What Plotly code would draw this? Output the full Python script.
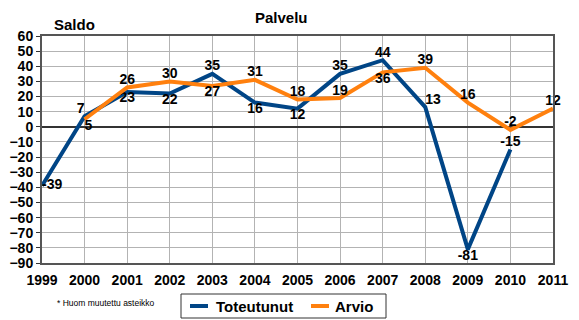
import plotly.graph_objects as go

years = list(range(1999, 2012))
toteutunut = [-39, 7, 23, 22, 35, 16, 12, 35, 44, 13, -81, -15, None]
arvio = [None, 5, 26, 30, 27, 31, 18, 19, 36, 39, 16, -2, 12]
series_names = ["Toteutunut", "Arvio"]

tot_pos = ["middle right", "top left", "bottom center", "bottom center", "top center",
           "bottom center", "bottom center", "top center", "top center", "top right",
           "bottom center", "top center", "top center"]
arv_pos = ["top center", "bottom right", "top center", "top center", "bottom center",
           "top center", "top center", "top center", "bottom center", "top center",
           "top center", "top center", "top center"]

BLUE = "#004586"
ORANGE = "#ff800e"
FONT = "Liberation Sans, Arial, sans-serif"

W, H = 579, 320
ML, MR, MT, MB = 42, 26, 36, 57
PW, PH = W - ML - MR, H - MT - MB


def px(x):
    """Horizontal pixel -> paper coordinate."""
    return (x - ML) / PW


def py(y):
    """Vertical pixel (from top) -> paper coordinate."""
    return 1 - (y - MT) / PH


def labels(vals):
    return ["" if v is None else str(v) for v in vals]


fig = go.Figure()
for name, vals, pos, color in [
    (series_names[0], toteutunut, tot_pos, BLUE),
    (series_names[1], arvio, arv_pos, ORANGE),
]:
    fig.add_trace(go.Scatter(
        x=years, y=vals, name=name, mode="lines+text",
        line=dict(color=color, width=4), text=labels(vals), textposition=pos,
        textfont=dict(family=FONT, size=14, color="#000", weight="bold"),
        connectgaps=False, cliponaxis=False, showlegend=False,
    ))

# Legend box below the chart
shapes = [
    dict(type="rect", xref="paper", yref="paper",
         x0=px(181), x1=px(386), y0=py(294), y1=py(318),
         line=dict(color="#333", width=1), fillcolor="white"),
    dict(type="line", xref="paper", yref="paper",
         x0=px(190), x1=px(208), y0=py(306), y1=py(306),
         line=dict(color=BLUE, width=4)),
    dict(type="line", xref="paper", yref="paper",
         x0=px(311), x1=px(329), y0=py(306), y1=py(306),
         line=dict(color=ORANGE, width=4)),
]

annotations = [
    dict(text="Palvelu", xref="paper", yref="paper", x=px(281), y=py(17),
         xanchor="center", yanchor="middle", showarrow=False,
         font=dict(family=FONT, size=15, weight="bold")),
    dict(text="Saldo", xref="paper", yref="paper", x=px(52), y=py(24),
         xanchor="left", yanchor="middle", showarrow=False,
         font=dict(family=FONT, size=15, weight="bold")),
    dict(text="* Huom muutettu asteikko", xref="paper", yref="paper",
         x=px(106), y=py(303), xanchor="center", yanchor="middle", showarrow=False,
         font=dict(family=FONT, size=8.5, weight="normal")),
    dict(text=series_names[0], xref="paper", yref="paper", x=px(214), y=py(306),
         xanchor="left", yanchor="middle", showarrow=False,
         font=dict(family=FONT, size=15, weight="bold")),
    dict(text=series_names[1], xref="paper", yref="paper", x=px(333), y=py(306),
         xanchor="left", yanchor="middle", showarrow=False,
         font=dict(family=FONT, size=15, weight="bold")),
]

fig.update_layout(
    width=W, height=H,
    margin=dict(l=ML, r=MR, t=MT, b=MB, autoexpand=False),
    paper_bgcolor="white", plot_bgcolor="white",
    font=dict(family=FONT, size=14, color="#000", weight="bold"),
    showlegend=False,
    shapes=shapes,
    annotations=annotations,
)

fig.update_xaxes(
    range=[1999, 2011], dtick=1, tick0=1999,
    showgrid=True, gridcolor="#b3b3b3", gridwidth=1,
    showline=True, linecolor="#555", linewidth=2, mirror=True,
    ticks="", ticklabelstandoff=3,
    tickfont=dict(family=FONT, size=14, weight="bold"),
    zeroline=False,
)
fig.update_yaxes(
    range=[-90, 60], dtick=10, tick0=0,
    showgrid=True, gridcolor="#b3b3b3", gridwidth=1,
    showline=True, linecolor="#555", linewidth=2, mirror=True,
    ticks="outside", ticklen=4, tickcolor="#333",
    tickfont=dict(family=FONT, size=14, weight="bold"),
    zeroline=True, zerolinecolor="#333", zerolinewidth=2,
)

fig.write_html("out.html")
